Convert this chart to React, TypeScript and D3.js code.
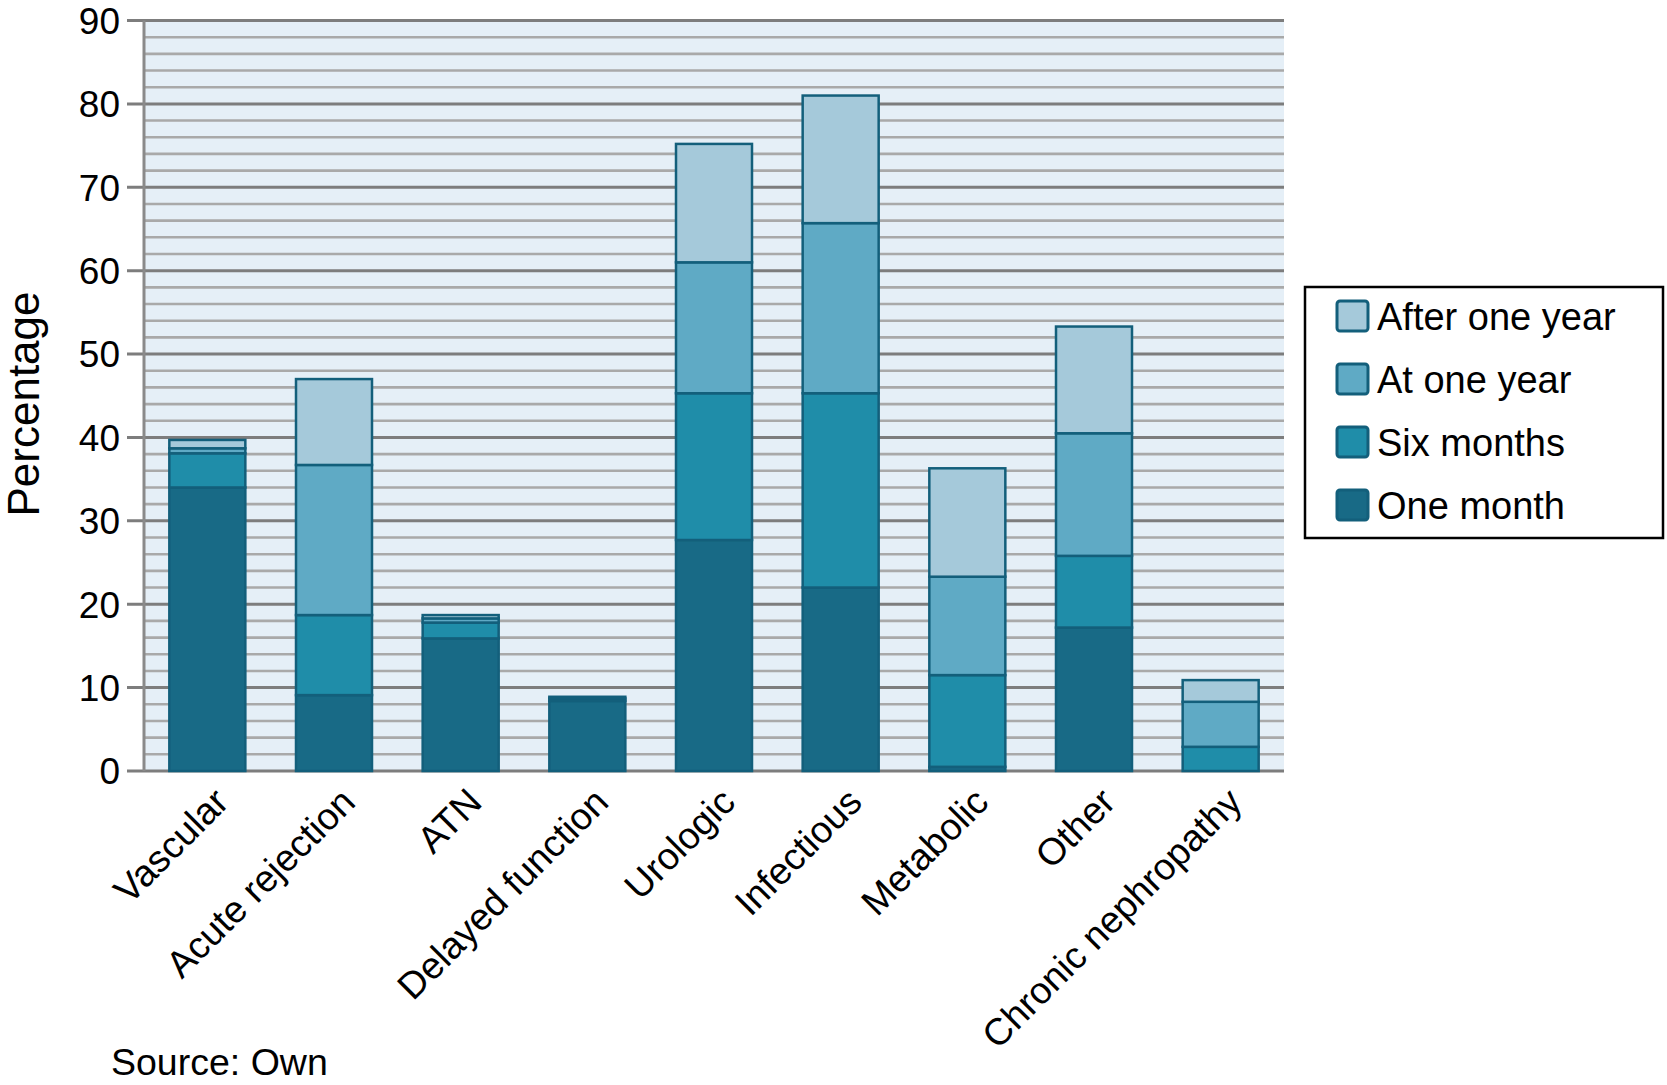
import React, { useEffect, useRef } from 'react';
import * as d3 from 'd3';

const categories = [
    'Vascular', 'Acute rejection', 'ATN', 'Delayed function', 'Urologic',
    'Infectious', 'Metabolic', 'Other', 'Chronic nephropathy',
];
const seriesNames = ['One month', 'Six months', 'At one year', 'After one year'];
const oneMonth = [34.0, 9.1, 15.9, 8.4, 27.7, 22.0, 0.5, 17.2, 0];
const sixMonths = [4.1, 9.6, 1.9, 0.3, 17.6, 23.3, 11.0, 8.6, 2.9];
const atOneYear = [0.6, 18.0, 0.5, 0.2, 15.7, 20.4, 11.8, 14.7, 5.4];
const afterOneYear = [1.0, 10.3, 0.4, 0, 14.2, 15.3, 13.0, 12.8, 2.6];
const yTicks = [0, 10, 20, 30, 40, 50, 60, 70, 80, 90];

const seriesColors = ['#186a86', '#1f8da9', '#5faac5', '#a5c9da'];
const FONT = '"Liberation Sans", Arial, sans-serif';

const drawChart = (container: HTMLDivElement) => {
    d3.select(container).selectAll('*').remove();

    const W = 1667;
    const H = 1085;
    const margin = { top: 20.5, right: 383, bottom: 314, left: 144 };
    const width = W - margin.left - margin.right;
    const height = H - margin.top - margin.bottom;

    const svgRoot = d3.select(container)
        .append('svg')
        .attr('width', W)
        .attr('height', H)
        .style('display', 'block')
        .style('font-family', FONT);

    svgRoot.append('rect').attr('width', W).attr('height', H).attr('fill', '#ffffff');

    const svg = svgRoot.append('g')
        .attr('transform', `translate(${margin.left}, ${margin.top})`);

    const x = d3.scaleBand<string>()
        .domain(categories)
        .range([0, width])
        .paddingInner(0.4)
        .paddingOuter(0.2);

    const y = d3.scaleLinear().domain([0, 90]).range([height, 0]);

    // --- plot background + grid ---
    svg.append('rect')
        .attr('x', 0).attr('y', 0)
        .attr('width', width).attr('height', height)
        .attr('fill', '#e5eff7');

    const minor = d3.range(0, 91, 2).filter(v => v % 10 !== 0);
    svg.selectAll('.minor')
        .data(minor)
        .enter()
        .append('line')
        .attr('x1', 0).attr('x2', width)
        .attr('y1', d => y(d)).attr('y2', d => y(d))
        .attr('stroke', '#a9a9a9')
        .attr('stroke-width', 2.6);

    svg.selectAll('.major')
        .data(yTicks)
        .enter()
        .append('line')
        .attr('x1', -17).attr('x2', width)
        .attr('y1', d => y(d)).attr('y2', d => y(d))
        .attr('stroke', '#7d7d7d')
        .attr('stroke-width', 3);

    svg.append('line')
        .attr('x1', 0).attr('x2', 0)
        .attr('y1', 0).attr('y2', height)
        .attr('stroke', '#8a8a8a')
        .attr('stroke-width', 3);

    // --- stacked bars ---
    const rows = categories.map((c, i) => ({
        category: c,
        'One month': oneMonth[i],
        'Six months': sixMonths[i],
        'At one year': atOneYear[i],
        'After one year': afterOneYear[i],
    }));
    const stack = d3.stack<any>().keys(seriesNames);
    const series = stack(rows);

    series.forEach((s, si) => {
        svg.selectAll(`.seg-${si}`)
            .data(s.filter(d => d[1] - d[0] > 0))
            .enter()
            .append('rect')
            .attr('x', d => x(d.data.category) as number)
            .attr('width', x.bandwidth())
            .attr('y', d => y(d[1]))
            .attr('height', d => y(d[0]) - y(d[1]))
            .attr('fill', seriesColors[si])
            .attr('stroke', '#135f7b')
            .attr('stroke-width', 2.5);
    });

    // --- y tick labels ---
    svg.selectAll('.ytick')
        .data(yTicks)
        .enter()
        .append('text')
        .attr('x', -24)
        .attr('y', d => y(d))
        .attr('dy', '0.36em')
        .attr('text-anchor', 'end')
        .style('font-size', '37px')
        .style('fill', '#000')
        .text(d => d);

    svgRoot.append('text')
        .attr('transform', 'translate(39, 404) rotate(-90)')
        .attr('text-anchor', 'middle')
        .style('font-size', '44px')
        .style('fill', '#000')
        .text('Percentage');

    // --- x labels, rotated ---
    categories.forEach(c => {
        const cx = (x(c) as number) + x.bandwidth() / 2 + 14;
        const cy = height + 24;
        svg.append('text')
            .attr('transform', `translate(${cx}, ${cy}) rotate(-45)`)
            .attr('text-anchor', 'end')
            .attr('dy', '0.35em')
            .style('font-size', '37.5px')
            .style('fill', '#000')
            .text(c);
    });

    // --- legend ---
    const legendG = svgRoot.append('g').attr('transform', 'translate(1305, 287)');
    legendG.append('rect')
        .attr('width', 358).attr('height', 251)
        .attr('fill', '#fff')
        .attr('stroke', '#000')
        .attr('stroke-width', 2.5);

    const legendOrder = [...seriesNames].reverse();
    legendOrder.forEach((name, i) => {
        const si = seriesNames.indexOf(name);
        const ly = 29 + i * 63;
        legendG.append('rect')
            .attr('x', 32).attr('y', ly - 15)
            .attr('width', 31).attr('height', 30)
            .attr('rx', 3)
            .attr('fill', seriesColors[si])
            .attr('stroke', '#135f7b')
            .attr('stroke-width', 3);
        legendG.append('text')
            .attr('x', 72).attr('y', ly)
            .attr('dy', '0.36em')
            .style('font-size', '38px')
            .style('fill', '#000')
            .text(name);
    });

    svgRoot.append('text')
        .attr('x', 111).attr('y', 1075)
        .style('font-size', '37.5px')
        .style('fill', '#000')
        .text('Source: Own');
};

const App: React.FC = () => {
    const ref = useRef<HTMLDivElement | null>(null);
    useEffect(() => {
        if (ref.current) drawChart(ref.current);
    }, []);
    return <div ref={ref} style={{ position: 'absolute', left: 0, top: 0 }} />;
};

export default App;
